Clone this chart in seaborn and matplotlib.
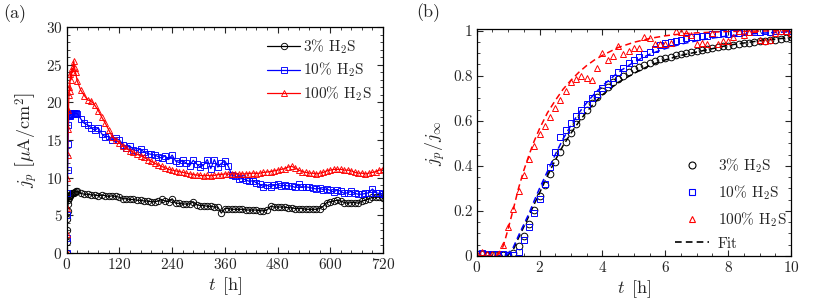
import numpy as np
import pandas as pd
import matplotlib
matplotlib.use('Agg')
import matplotlib.pyplot as plt
from matplotlib.lines import Line2D
from matplotlib.ticker import MultipleLocator, FuncFormatter
import seaborn as sns

# ---- panel (a): permeation current over 720 h ----
t_early = [0, 0.5, 1, 1.5, 2, 3, 4, 5, 6, 7, 8, 10, 12, 14, 16, 18, 20]
t_a = t_early + list(range(24, 721, 8))

j3_early = [0, 1.5, 3.0, 4.5, 5.6, 6.5, 7.0, 7.3, 7.5, 7.6, 7.7, 7.8, 7.9, 7.95, 8.0, 8.1, 8.2]
j3 = [8.2, 7.9, 7.8, 7.8, 7.7, 7.7, 7.6, 7.7,
      7.6, 7.5, 7.6, 7.5, 7.4, 7.2, 7.2, 7.1, 7.1, 7.0,
      7.0, 6.9, 6.9, 6.8, 6.8, 6.9, 7.1, 6.9, 6.8, 7.2,
      6.6, 6.6, 6.5, 6.5, 6.5, 6.8, 6.4, 6.3, 6.3, 6.2,
      6.2, 6.1, 6.1, 5.3, 5.9, 5.9, 5.8, 5.8, 5.8, 5.8,
      5.7, 5.7, 5.7, 5.7, 5.6, 5.6, 5.7, 6.2, 6.1, 6.1,
      6.1, 6.1, 6.0, 6.0, 5.9, 5.9, 5.9, 5.8, 5.8, 5.8,
      5.8, 5.9, 6.2, 6.7, 6.8, 6.9, 7.0, 6.9, 6.7, 6.6,
      6.7, 6.7, 6.6, 6.9, 7.0, 7.2, 7.4, 7.4, 7.4, 7.3]

j10_early = [0, 2.0, 5.0, 8.0, 11.0, 14.5, 17.0, 18.2, 18.3, 18.2, 18.3, 18.5, 18.4, 18.6, 18.6, 18.4, 18.6]
j10 = [18.5, 17.8, 17.2, 17.0, 16.6, 16.3, 16.6, 15.8,
       15.4, 15.5, 15.0, 15.2, 15.0, 14.4, 14.0, 14.2, 13.7, 13.6,
       13.8, 13.4, 13.2, 13.1, 13.0, 12.8, 12.6, 12.9, 12.4, 13.0,
       12.2, 12.0, 12.3, 11.9, 11.6, 12.3, 11.8, 11.4, 11.7, 12.4,
       11.2, 12.4, 11.4, 11.9, 12.2, 11.5, 10.3, 10.2, 9.8, 9.9,
       9.7, 9.5, 9.6, 9.3, 9.1, 8.8, 9.0, 8.8, 9.0, 9.1,
       8.9, 9.0, 8.9, 8.9, 8.7, 9.1, 8.7, 8.8, 8.7, 8.6,
       8.5, 8.6, 8.4, 8.5, 8.3, 8.1, 8.4, 8.2, 7.9, 8.0,
       8.2, 7.9, 7.8, 7.8, 7.9, 8.0, 8.5, 8.0, 7.9, 7.8]

j100_early = [0, 2.5, 6.0, 10.0, 13.0, 16.5, 19.0, 21.0, 22.0, 21.5, 23.8, 23.0, 24.5, 24.0, 25.5, 24.6, 24.0]
j100 = [22.8, 21.6, 20.9, 20.3, 20.2, 19.6, 18.9, 18.0,
        17.2, 16.3, 15.4, 15.0, 14.6, 14.2, 13.9, 13.6, 13.4, 13.1,
        12.9, 12.7, 12.4, 12.2, 11.9, 11.7, 11.5, 11.3, 11.1, 11.0,
        10.9, 10.8, 10.7, 10.6, 10.5, 10.4, 10.35, 10.3, 10.25, 10.3,
        10.25, 10.3, 10.4, 10.4, 10.5, 10.45, 10.5, 10.5, 10.45, 10.5,
        10.5, 10.55, 10.6, 10.55, 10.6, 10.7, 10.75, 10.8, 10.9, 11.0,
        11.1, 11.2, 11.4, 11.5, 11.3, 11.0, 10.8, 10.7, 10.6, 10.6,
        10.5, 10.6, 10.7, 10.9, 11.0, 11.1, 11.1, 11.1, 11.0, 11.0,
        10.9, 10.7, 10.6, 10.6, 10.5, 10.6, 10.7, 10.8, 11.0, 11.2]

# ---- panel (b): normalised transient, first 10 h (10 min sampling) ----
t_b = np.linspace(0, 10, 61)
n3 = [0.01, 0.01, 0.005, 0.005, 0.005, 0.003, 0.003, 0.012, 0.045, 0.09,
      0.14, 0.205, 0.265, 0.315, 0.365, 0.415, 0.46, 0.505, 0.545, 0.585,
      0.62, 0.65, 0.68, 0.705, 0.73, 0.75, 0.77, 0.785, 0.80, 0.815,
      0.828, 0.838, 0.848, 0.856, 0.864, 0.872, 0.878, 0.884, 0.89, 0.895,
      0.90, 0.905, 0.91, 0.914, 0.918, 0.922, 0.926, 0.93, 0.933, 0.937,
      0.94, 0.943, 0.946, 0.949, 0.952, 0.955, 0.957, 0.96, 0.963, 0.966,
      0.97]
n10 = [0.01, 0.015, 0.01, 0.01, 0.01, 0.01, 0.005, 0.005, 0.02, 0.07,
       0.13, 0.19, 0.255, 0.32, 0.397, 0.46, 0.53, 0.56, 0.59, 0.62,
       0.65, 0.675, 0.70, 0.72, 0.745, 0.765, 0.79, 0.815, 0.835, 0.855,
       0.87, 0.885, 0.895, 0.905, 0.92, 0.935, 0.945, 0.95, 0.955, 0.96,
       0.965, 0.97, 0.97, 0.975, 0.975, 0.985, 0.985, 0.99, 0.985, 0.99,
       0.99, 0.995, 0.995, 0.995, 0.995, 1.0, 0.995, 1.0, 1.0, 1.0,
       1.0]
n100 = [0.01, 0.02, 0.01, 0.01, 0.01, 0.05, 0.13, 0.21, 0.29, 0.36,
        0.43, 0.49, 0.54, 0.575, 0.615, 0.655, 0.69, 0.73, 0.77, 0.785,
        0.80, 0.79, 0.78, 0.835, 0.90, 0.87, 0.887, 0.93, 0.895, 0.91,
        0.923, 0.925, 0.97, 0.965, 0.94, 0.94, 0.94, 0.945, 0.997, 0.995,
        0.99, 0.98, 0.94, 0.945, 0.94, 0.99, 0.94, 0.955, 0.955, 0.97,
        1.0, 0.98, 0.995, 1.005, 0.96, 0.955, 0.96, 0.99, 1.0, 1.0,
        0.99]

t_fit = [0, 0.5, 0.67, 0.83, 0.9, 1.0, 1.17, 1.33, 1.5, 1.67, 1.83, 2.0,
         2.25, 2.5, 2.75, 3.0, 3.25, 3.5, 3.75, 4.0, 4.5, 5.0, 5.5, 6.0,
         6.5, 7.0, 7.5, 8.0, 8.5, 9.0, 9.5, 10.0]
fit3 = [0, 0, 0, 0, 0, 0.005, 0.03, 0.08, 0.13, 0.18, 0.23, 0.28,
        0.355, 0.425, 0.49, 0.545, 0.595, 0.64, 0.68, 0.715, 0.77, 0.81, 0.845, 0.87,
        0.89, 0.905, 0.92, 0.935, 0.945, 0.955, 0.962, 0.97]
fit10 = [0, 0, 0, 0, 0, 0.01, 0.04, 0.09, 0.14, 0.19, 0.245, 0.30,
         0.375, 0.45, 0.52, 0.58, 0.635, 0.68, 0.72, 0.755, 0.815, 0.86, 0.895, 0.92,
         0.94, 0.955, 0.967, 0.976, 0.983, 0.988, 0.992, 0.995]
fit100 = [0, 0, 0.005, 0.04, 0.07, 0.12, 0.21, 0.30, 0.38, 0.45, 0.51, 0.565,
          0.635, 0.69, 0.74, 0.78, 0.815, 0.845, 0.87, 0.89, 0.925, 0.948, 0.965, 0.977,
          0.985, 0.99, 0.993, 0.996, 0.997, 0.998, 0.999, 1.0]

labels = ['3% H$_2$S', '10% H$_2$S', '100% H$_2$S']
colors = ['black', '#0000ff', '#ff0000']
markers = ['o', 's', '^']

sns.set_theme(style='ticks')
plt.rcParams['font.family'] = 'serif'
plt.rcParams['font.serif'] = ['cmr10', 'DejaVu Serif']
plt.rcParams['mathtext.fontset'] = 'cm'
plt.rcParams['axes.formatter.use_mathtext'] = True
plt.rcParams['axes.unicode_minus'] = False

fig = plt.figure(figsize=(8.3, 3.07), dpi=100)
ax1 = fig.add_axes([0.0804, 0.176, 0.381, 0.736])
ax2 = fig.add_axes([0.5743, 0.166, 0.3787, 0.738])

df_a = pd.DataFrame({'t': t_a * 3,
                     'j': j3_early + j3 + j10_early + j10 + j100_early + j100,
                     'series': sum([[lab] * len(t_a) for lab in labels], [])})

for lab, c, m in zip(labels, colors, markers):
    sub = df_a[df_a['series'] == lab]
    sns.lineplot(data=sub, x='t', y='j', ax=ax1, color=c, lw=0.9,
                 marker=m, ms=4.6, mfc='none', mec=c, mew=0.65,
                 estimator=None, sort=False, label=lab)

ax1.set_xlim(0, 720)
ax1.set_ylim(0, 30)
ax1.xaxis.set_major_locator(MultipleLocator(120))
ax1.xaxis.set_minor_locator(MultipleLocator(24))
ax1.yaxis.set_major_locator(MultipleLocator(5))
ax1.yaxis.set_minor_locator(MultipleLocator(1))
ax1.set_xlabel(r'$t\ \, [\mathrm{h}]$', fontsize=13, labelpad=2)
ax1.set_ylabel(r'$j_p\ \left[\mu\mathrm{A/cm}^2\right]$', fontsize=13, labelpad=4)
ax1.legend(loc='upper right', frameon=False, fontsize=11, handlelength=2.2,
           handletextpad=0.2, labelspacing=0.3, borderaxespad=0.3)

fit_sets = [fit3, fit10, fit100]
data_sets = [n3, n10, n100]
for lab, c, m, nvals, fvals in zip(labels, colors, markers, data_sets, fit_sets):
    sns.lineplot(x=t_fit, y=fvals, ax=ax2, color=c, lw=1.1, ls=(0, (4, 2.5)),
                 estimator=None, sort=False)
    sns.lineplot(x=t_b, y=nvals, ax=ax2, color=c, ls='none', marker=m, ms=4.8,
                 mfc='none', mec=c, mew=0.7, estimator=None, sort=False)

ax2.set_xlim(0, 10)
ax2.set_ylim(0, 1.005)
ax2.xaxis.set_major_locator(MultipleLocator(2))
ax2.xaxis.set_minor_locator(MultipleLocator(0.5))
ax2.yaxis.set_major_locator(MultipleLocator(0.2))
ax2.yaxis.set_minor_locator(MultipleLocator(0.05))
ax2.yaxis.set_major_formatter(FuncFormatter(lambda v, p: f'{v:g}'))
ax2.set_xlabel(r'$t\ \, [\mathrm{h}]$', fontsize=13, labelpad=2)
ax2.set_ylabel(r'$j_p/j_\infty$', fontsize=13, labelpad=4)

handles = [Line2D([], [], ls='none', marker=m, ms=5, mfc='none', mec=c, mew=0.8)
           for c, m in zip(colors, markers)]
handles.append(Line2D([], [], color='black', lw=1.2, ls=(0, (4, 2.5))))
ax2.legend(handles, labels + ['Fit'], loc='lower right', frameon=False,
           fontsize=11, handlelength=2.2, handletextpad=0.6, labelspacing=0.55,
           borderaxespad=0.1, bbox_to_anchor=(1.01, -0.01))

for ax in (ax1, ax2):
    ax.tick_params(which='both', direction='in', top=True, right=True,
                   labelsize=11, pad=3)
    ax.tick_params(which='major', length=4, width=0.8)
    ax.tick_params(which='minor', length=2, width=0.6)
    for s in ax.spines.values():
        s.set_linewidth(0.9)
        s.set_color('black')

fig.text(0.004, 0.985, '(a)', fontsize=13, va='top', ha='left')
fig.text(0.502, 0.99, '(b)', fontsize=13, va='top', ha='left')

fig.savefig('out.png', dpi=100)
